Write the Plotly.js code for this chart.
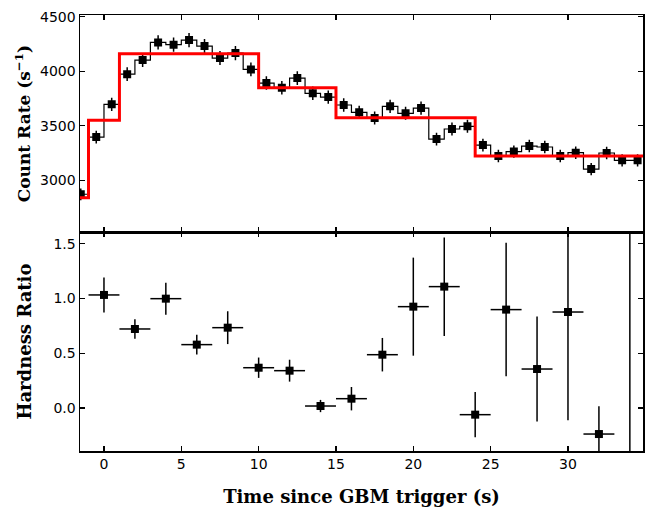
<!DOCTYPE html>
<html>
<head>
<meta charset="utf-8">
<script src="https://cdn.plot.ly/plotly-3.0.1.min.js"></script>
<style>html,body{margin:0;padding:0;background:#fff;}#chart{width:650px;height:510px;}</style>
</head>
<body>
<div id="chart"></div>
<script>
// Light curve (1-s bins)
const lcTime = [-1.5,-0.5,0.5,1.5,2.5,3.5,4.5,5.5,6.5,7.5,8.5,9.5,10.5,11.5,12.5,13.5,14.5,15.5,16.5,17.5,18.5,19.5,20.5,21.5,22.5,23.5,24.5,25.5,26.5,27.5,28.5,29.5,30.5,31.5,32.5,33.5,34.5];
const lcRate = [2872,3396,3696,3973,4102,4264,4243,4285,4230,4120,4166,4016,3891,3849,3937,3797,3763,3690,3623,3571,3678,3614,3662,3378,3470,3495,3323,3222,3263,3314,3305,3222,3253,3103,3250,3183,3183];
const lcErr  = [54,58,61,63,64,65,65,65,65,64,65,63,62,62,63,62,61,61,60,60,61,60,61,58,59,59,58,57,57,58,57,57,57,56,57,56,56];

// Bayesian blocks
const blockEdges  = [-1.55,-1.0,1.0,10.0,15.0,24.0,34.85];
const blockLevels = [2840,3550,4160,3849,3574,3223,3223];

// Hardness ratio (2-s bins)
const hrTime = [0,2,4,6,8,10,12,14,16,18,20,22,24,26,28,30,32,34];
const hrVal  = [1.033,0.722,0.999,0.579,0.734,0.368,0.341,0.018,0.085,0.487,0.926,1.109,-0.061,0.899,0.356,0.877,-0.238,-1.0];
const hrErr  = [0.16,0.09,0.146,0.09,0.15,0.093,0.10,0.056,0.107,0.153,0.448,0.45,0.207,0.61,0.48,0.99,0.254,3.0];
const hrHalfWidth = [1,1,1,1,1,1,1,1,1,1,1,1,1,1,1,1,1,1];

const xTicks = [0,5,10,15,20,25,30];
const rateTicks = [3000,3500,4000,4500];
const hrTicks = [0.0,0.5,1.0,1.5];

const traces = [
  {
    x: lcTime, y: lcRate, xaxis: 'x2', yaxis: 'y2', type: 'scatter', mode: 'lines+markers',
    line: {shape: 'hvh', color: '#000', width: 1.2},
    marker: {symbol: 'square', size: 8, color: '#000'},
    error_y: {type: 'data', array: lcErr, visible: true, color: '#000', thickness: 1.5, width: 0},
    showlegend: false, cliponaxis: true
  },
  {
    x: blockEdges, y: blockLevels, xaxis: 'x2', yaxis: 'y2', type: 'scatter', mode: 'lines',
    line: {shape: 'hv', color: '#ff0000', width: 3},
    showlegend: false
  },
  {
    x: hrTime, y: hrVal, xaxis: 'x', yaxis: 'y', type: 'scatter', mode: 'markers',
    marker: {symbol: 'square', size: 8, color: '#000'},
    error_y: {type: 'data', array: hrErr, visible: true, color: '#000', thickness: 1.5, width: 0},
    error_x: {type: 'data', array: hrHalfWidth, visible: true, color: '#000', thickness: 1.5, width: 0},
    showlegend: false
  }
];

const axisCommon = {
  showgrid: false, zeroline: false, showline: true, linecolor: '#000', linewidth: 1.5,
  mirror: 'ticks', ticks: 'inside', ticklen: 5, tickwidth: 1.2, tickcolor: '#000',
  tickfont: {family: 'DejaVu Sans', size: 14, color: '#000'}
};
const titleFont = {family: 'DejaVu Serif', size: 18, color: '#000', weight: 'bold'};
const rateTitleFont = {family: 'DejaVu Serif', size: 17, color: '#000', weight: 'bold'};

const layout = {
  width: 650, height: 510,
  margin: {l: 80, r: 7, t: 15, b: 59},
  paper_bgcolor: '#fff', plot_bgcolor: '#fff',
  showlegend: false,
  xaxis: Object.assign({}, axisCommon, {
    anchor: 'y', domain: [0, 1], range: [-1.55, 34.85], tickvals: xTicks,
    title: {text: 'Time since GBM trigger (s)', font: titleFont, standoff: 19}
  }),
  xaxis2: Object.assign({}, axisCommon, {
    anchor: 'y2', domain: [0, 1], range: [-1.55, 34.85], tickvals: xTicks, showticklabels: false, matches: 'x'
  }),
  yaxis: Object.assign({}, axisCommon, {
    anchor: 'x', domain: [0, 0.502], range: [-0.393, 1.607], tickvals: hrTicks, tickformat: '.1f',
    title: {text: 'Hardness Ratio', font: titleFont, standoff: 17}
  }),
  yaxis2: Object.assign({}, axisCommon, {
    anchor: 'x2', domain: [0.502, 1], range: [2525, 4515], tickvals: rateTicks,
    title: {text: 'Count Rate (s<sup>−1</sup>)', font: rateTitleFont, standoff: 5}
  })
};

Plotly.newPlot('chart', traces, layout, {displayModeBar: false, staticPlot: true});
</script>
</body>
</html>
